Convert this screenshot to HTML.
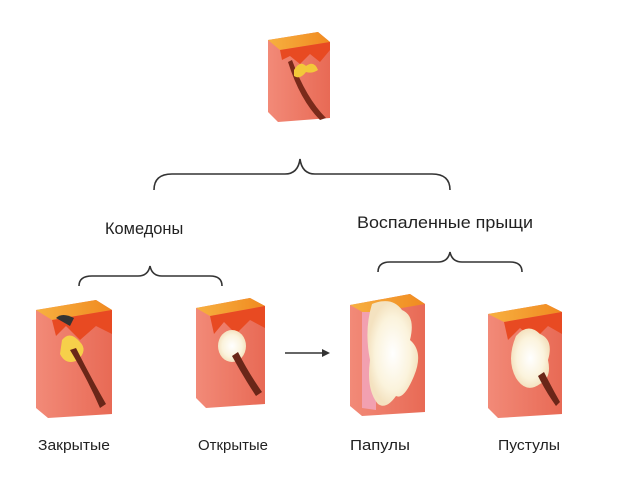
<!DOCTYPE html>
<html><head><meta charset="utf-8"><style>
html,body{margin:0;padding:0;background:#fff;}
svg{display:block}
text{font-family:"Liberation Sans",sans-serif;fill:#222}
</style></head><body>
<svg width="640" height="480" viewBox="0 0 640 480">
<defs>
<linearGradient id="side" x1="0" x2="1"><stop offset="0" stop-color="#e8503a"/><stop offset="1" stop-color="#f07a68"/></linearGradient>
<linearGradient id="front" x1="0" x2="1"><stop offset="0" stop-color="#f28a78"/><stop offset="1" stop-color="#e86a55"/></linearGradient>
<linearGradient id="topg" x1="0" x2="1"><stop offset="0" stop-color="#f7b040"/><stop offset="1" stop-color="#f08a20"/></linearGradient>
<radialGradient id="wh"><stop offset="0" stop-color="#fff"/><stop offset="0.7" stop-color="#fbf3dc"/><stop offset="1" stop-color="#f4e2c0"/></radialGradient>
</defs>
<g fill="none" stroke="#333" stroke-width="1.6">
<path d="M154 190 Q154 174 172 174 L285 174 Q298 174 300 159 Q302 174 315 174 L432 174 Q450 174 450 190"/>
<path d="M79 286 Q79 276 92 276 L138 276 Q148 276 150 266 Q152 276 162 276 L210 276 Q222 276 222 286"/>
<path d="M378 272 Q378 262 390 262 L438 262 Q448 262 450 252 Q452 262 462 262 L510 262 Q522 262 522 272"/>
<path d="M285 353 L325 353"/>
</g>
<path d="M330 353 L322 349 L322 357 Z" fill="#333"/>
<!-- top block -->
<g>
<path d="M268 40 L318 32 L330 42 L330 118 L278 122 L268 112 Z" fill="url(#front)"/>
<path d="M268 40 L318 32 L330 42 L280 50 Z" fill="url(#topg)"/>
<path d="M268 40 L280 50 L282 60 L290 56 L300 64 L310 54 L320 62 L330 50 L330 42 L280 50" fill="#e84a22"/>
<path d="M288 62 Q300 100 320 120 L326 118 Q306 98 292 60 Z" fill="#7a2a1a"/>
<path d="M294 70 Q300 60 306 66 Q314 60 318 70 Q312 74 306 72 Q300 80 294 76 Z" fill="#f3c83a"/>
</g>
<!-- block 1 -->
<g>
<path d="M36 310 L96 300 L112 310 L112 414 L48 418 L36 408 Z" fill="url(#front)"/>
<path d="M36 310 L96 300 L112 310 L52 320 Z" fill="url(#topg)"/>
<path d="M36 310 L52 320 L56 336 L66 326 L80 340 L96 326 L112 334 L112 310 L52 320" fill="#e84a22"/>
<path d="M56 318 Q62 312 74 318 L70 326 Z" fill="#333"/>
<path d="M62 340 Q70 330 80 342 Q88 350 78 360 Q66 366 60 354 Z" fill="#f6d04a"/>
<path d="M70 350 Q88 380 100 408 L106 404 Q90 376 76 348 Z" fill="#6a2618"/>
</g>
<!-- block 2 -->
<g>
<path d="M196 308 L250 298 L265 306 L265 404 L206 408 L196 398 Z" fill="url(#front)"/>
<path d="M196 308 L250 298 L265 306 L210 316 Z" fill="url(#topg)"/>
<path d="M196 308 L210 316 L214 334 L224 322 L236 334 L250 320 L265 328 L265 306 L210 316" fill="#e84a22"/>
<ellipse cx="232" cy="346" rx="14" ry="16" fill="url(#wh)"/>
<path d="M232 356 Q244 378 256 396 L262 392 Q248 372 238 352 Z" fill="#6a2618"/>
</g>
<!-- block 3 -->
<g>
<path d="M350 305 L410 294 L425 304 L425 412 L362 416 L350 406 Z" fill="url(#front)"/>
<path d="M350 305 L410 294 L425 304 L366 314 Z" fill="url(#topg)"/>
<path d="M362 312 L362 408 L376 410 L376 312 Z" fill="#f2a0b0"/>
<path d="M372 304 Q392 296 402 310 Q416 316 410 340 Q424 352 414 376 Q404 400 396 396 Q386 410 378 404 Q366 390 370 360 Q364 330 372 304 Z" fill="url(#wh)"/>
</g>
<!-- block 4 -->
<g>
<path d="M488 314 L546 304 L562 312 L562 414 L498 418 L488 408 Z" fill="url(#front)"/>
<path d="M488 314 L546 304 L562 312 L504 322 Z" fill="url(#topg)"/>
<path d="M488 314 L504 322 L508 340 L520 328 L534 340 L548 326 L562 334 L562 312 L504 322" fill="#e84a22"/>
<path d="M516 336 Q528 322 540 334 Q554 340 548 360 Q552 378 540 384 Q526 394 516 378 Q506 360 516 336 Z" fill="url(#wh)"/>
<path d="M538 376 Q546 392 556 406 L560 402 Q552 388 544 372 Z" fill="#6a2618"/>
</g>
<g font-size="17">
<text x="105" y="234" transform="translate(105 0) scale(0.9 1) translate(-105 0)" textLength="87" lengthAdjust="spacingAndGlyphs">Комедоны</text>
<text x="357" y="228" textLength="176" lengthAdjust="spacingAndGlyphs">Воспаленные прыщи</text>
</g>
<g font-size="15">
<text x="38" y="450" textLength="72" lengthAdjust="spacingAndGlyphs">Закрытые</text>
<text x="198" y="450" textLength="70" lengthAdjust="spacingAndGlyphs">Открытые</text>
<text x="350" y="450" textLength="60" lengthAdjust="spacingAndGlyphs">Папулы</text>
<text x="498" y="450" textLength="62" lengthAdjust="spacingAndGlyphs">Пустулы</text>
</g>
</svg>
</body></html>
